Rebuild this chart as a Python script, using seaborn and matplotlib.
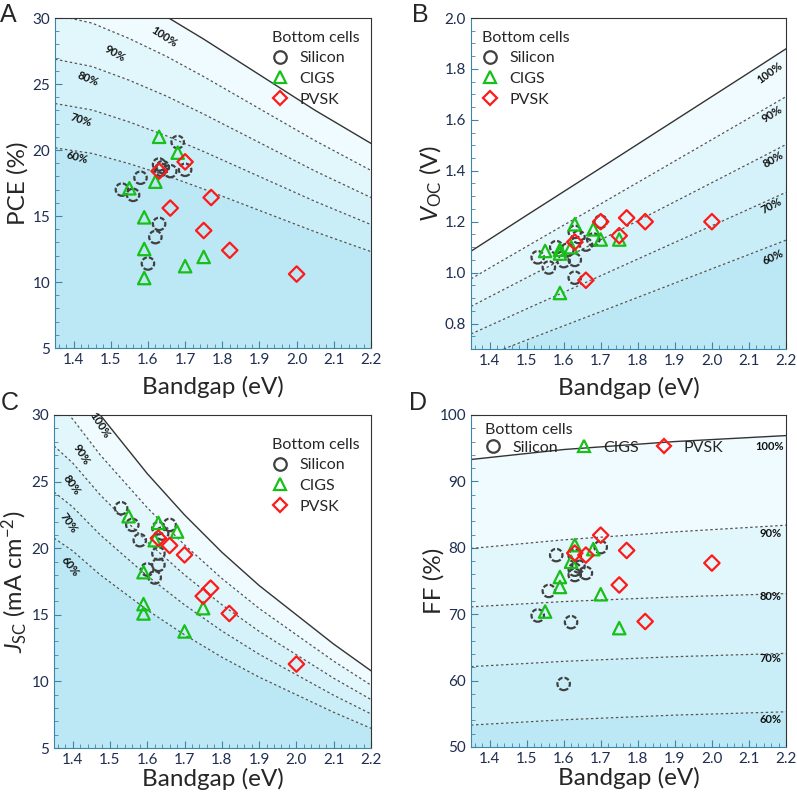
import numpy as np
import pandas as pd
import matplotlib
matplotlib.use("Agg")
import matplotlib.pyplot as plt
import seaborn as sns
from matplotlib.lines import Line2D
from matplotlib.ticker import MultipleLocator

sns.set_style("ticks")
plt.rcParams['font.family'] = ['Lato', 'DejaVu Sans']
plt.rcParams['mathtext.fontset'] = 'custom'
plt.rcParams['mathtext.rm'] = 'Lato'
plt.rcParams['mathtext.it'] = 'Lato:italic'

# ------------------------------------------------------------
# data
# ------------------------------------------------------------
cells = ['Silicon', 'CIGS', 'PVSK']
levels = [1.0, 0.9, 0.8, 0.7, 0.6]
level_labels = ['100%', '90%', '80%', '70%', '60%']

# A - PCE
si_eg_a = [1.53, 1.56, 1.58, 1.60, 1.62, 1.63, 1.63, 1.635, 1.64, 1.66, 1.68, 1.70]
si_pce = [17.0, 16.6, 17.9, 11.4, 13.4, 14.4, 18.9, 18.5, 18.7, 18.4, 20.6, 18.5]
cigs_eg_a = [1.55, 1.59, 1.59, 1.59, 1.62, 1.63, 1.68, 1.70, 1.75]
cigs_pce = [17.1, 14.9, 12.5, 10.3, 17.6, 21.0, 19.8, 11.2, 11.9]
pvsk_eg_a = [1.63, 1.66, 1.70, 1.75, 1.77, 1.82, 2.00]
pvsk_pce = [18.4, 15.6, 19.1, 13.9, 16.4, 12.4, 10.6]
pce_lim_x = [1.35, 1.45, 1.55, 1.65, 1.75, 1.85, 1.95, 2.05, 2.2]
pce_lim = [33.6, 32.9, 31.6, 30.1, 28.4, 26.6, 24.8, 23.0, 20.5]

# B - Voc
si_eg_b = [1.53, 1.56, 1.58, 1.60, 1.61, 1.63, 1.63, 1.63, 1.64, 1.66, 1.68, 1.70]
si_voc = [1.06, 1.02, 1.10, 1.045, 1.09, 1.05, 0.98, 1.16, 1.14, 1.11, 1.13, 1.20]
cigs_eg_b = [1.55, 1.59, 1.59, 1.59, 1.62, 1.63, 1.68, 1.70, 1.75]
cigs_voc = [1.085, 1.09, 1.075, 0.92, 1.10, 1.19, 1.17, 1.13, 1.13]
pvsk_eg_b = [1.63, 1.66, 1.70, 1.75, 1.77, 1.82, 2.00]
pvsk_voc = [1.12, 0.97, 1.20, 1.145, 1.215, 1.20, 1.20]
voc_lim_x = [1.35, 1.5, 1.7, 1.9, 2.1, 2.2]
voc_lim = [1.084, 1.225, 1.411, 1.598, 1.785, 1.879]

# C - Jsc
si_eg_c = [1.53, 1.56, 1.58, 1.60, 1.62, 1.63, 1.63, 1.63, 1.64, 1.66]
si_jsc = [23.0, 21.75, 20.6, 18.4, 17.8, 18.75, 19.6, 21.5, 21.1, 21.75]
cigs_eg_c = [1.55, 1.59, 1.59, 1.59, 1.62, 1.63, 1.68, 1.70, 1.75]
cigs_jsc = [22.4, 18.2, 15.8, 15.1, 20.6, 21.9, 21.25, 13.75, 15.5]
pvsk_eg_c = [1.63, 1.66, 1.70, 1.75, 1.77, 1.82, 2.00]
pvsk_jsc = [20.75, 20.2, 19.5, 16.4, 17.0, 15.1, 11.3]
jsc_lim_x = [1.35, 1.4, 1.474, 1.6, 1.7, 1.8, 1.9, 2.0, 2.1, 2.2]
jsc_lim = [34.6, 33.0, 30.0, 25.6, 22.5, 19.7, 17.2, 15.0, 12.8, 10.8]

# D - FF
si_eg_d = [1.53, 1.56, 1.58, 1.60, 1.62, 1.63, 1.64, 1.63, 1.63, 1.66, 1.70]
si_ff = [69.8, 73.5, 78.9, 59.5, 68.8, 78.8, 77.2, 76.7, 75.9, 76.2, 80.1]
cigs_eg_d = [1.55, 1.59, 1.59, 1.62, 1.63, 1.68, 1.70, 1.75]
cigs_ff = [70.4, 75.6, 74.1, 77.9, 80.4, 79.8, 73.0, 67.9]
pvsk_eg_d = [1.63, 1.66, 1.70, 1.75, 1.77, 1.82, 2.00]
pvsk_ff = [79.2, 78.9, 81.9, 74.4, 79.6, 68.9, 77.7]
ff_x = [1.35, 1.6, 1.9, 2.2]
ff_100 = [93.3, 94.8, 96.0, 96.9]
ff_90 = [79.9, 81.2, 82.4, 83.4]
ff_80 = [71.1, 71.9, 72.6, 73.1]
ff_70 = [62.1, 62.9, 63.6, 64.1]
ff_60 = [53.3, 54.1, 54.8, 55.3]

# ------------------------------------------------------------
# styling
# ------------------------------------------------------------
colors = {'Silicon': '#404040', 'CIGS': '#16c016', 'PVSK': '#ff1a1a'}
markers = {'Silicon': 'o', 'CIGS': '^', 'PVSK': 'D'}
band_colors = ['#effbfe', '#e2f7fc', '#d5f2fa', '#c9eef8', '#bce8f5']
spine_col = '#3d86a8'
text_col = '#1f2d50'


def draw_bands(ax, x, lines, ybottom):
    for i in range(len(lines) - 1):
        ax.fill_between(x, lines[i], lines[i + 1], color=band_colors[i], lw=0, zorder=0)
    ax.fill_between(x, ybottom, lines[-1], color=band_colors[-1], lw=0, zorder=0)
    ax.plot(x, lines[0], color='#333333', lw=1.0, zorder=1)
    for l in lines[1:]:
        ax.plot(x, l, color='#555555', lw=0.9, ls=(0, (2, 2)), zorder=1)


def draw_points(ax, groups):
    for cell, xs, ys in groups:
        df = pd.DataFrame({'eg': xs, 'val': ys})
        sns.scatterplot(data=df, x='eg', y='val', color=colors[cell],
                        marker=markers[cell], s=80 if cell != 'PVSK' else 62,
                        ax=ax, zorder=3)
        pts = ax.collections[-1]
        pts.set_facecolors('none')
        pts.set_edgecolors(colors[cell])
        pts.set_linewidths(1.6)
        if cell == 'Silicon':
            pts.set_linestyle((0, (2.2, 0.9)))


def style_axes(ax, ylim, ymaj, ymin, ylabel, xlab_y, ylab_x=-0.085, ylab_size=17.5):
    ax.set_xlim(1.35, 2.2)
    ax.set_ylim(*ylim)
    ax.xaxis.set_major_locator(MultipleLocator(0.1))
    ax.xaxis.set_minor_locator(MultipleLocator(0.02))
    ax.yaxis.set_major_locator(MultipleLocator(ymaj))
    ax.yaxis.set_minor_locator(MultipleLocator(ymin))
    ax.tick_params(which='both', direction='in', color=spine_col,
                   labelcolor=text_col, labelsize=11)
    ax.tick_params(which='major', length=5)
    ax.tick_params(which='minor', length=3)
    ax.spines['left'].set_color(spine_col)
    ax.spines['bottom'].set_color(spine_col)
    ax.spines['top'].set_color('#333333')
    ax.spines['right'].set_color('#333333')
    ax.set_xlabel('Bandgap (eV)', fontsize=17.5)
    ax.set_ylabel(ylabel, fontsize=ylab_size)
    ax.xaxis.set_label_coords(0.5, xlab_y)
    ax.yaxis.set_label_coords(ylab_x, 0.5)


def add_legend(ax, loc, anchor, ncol=1, spacing=0.4):
    handles = [Line2D([], [], marker=markers[c], ls='', mfc='none', mec=colors[c],
                      mew=1.6, ms=9 if c != 'PVSK' else 7.5) for c in cells]
    leg = ax.legend(handles, cells, title='Bottom cells', loc=loc,
                    bbox_to_anchor=anchor, ncol=ncol, frameon=False,
                    fontsize=11.5, title_fontsize=11.5, alignment='left',
                    handlelength=1.0, handletextpad=0.7, labelspacing=spacing,
                    columnspacing=1.1, borderaxespad=0.3)
    return leg


def add_level_labels(ax, pos, rot):
    for lab, (xv, yv), r in zip(level_labels, pos, rot):
        ax.text(xv, yv, lab, rotation=r, fontsize=8, fontweight='bold',
                ha='center', va='center', color='#111111', zorder=2,
                rotation_mode='anchor')


fig = plt.figure(figsize=(7.97, 7.99), dpi=100)
W, H = 797, 799


def add_ax(l, t, r, b):
    return fig.add_axes([l / W, 1 - b / H, (r - l) / W, (b - t) / H])


axA = add_ax(55, 18, 371, 348)
axB = add_ax(471, 18, 786, 349)
axC = add_ax(54, 415, 371, 748)
axD = add_ax(471, 415, 786, 747)

# A
lines_a = [[v * f for v in pce_lim] for f in levels]
draw_bands(axA, pce_lim_x, lines_a, 5)
draw_points(axA, [('Silicon', si_eg_a, si_pce), ('CIGS', cigs_eg_a, cigs_pce),
                  ('PVSK', pvsk_eg_a, pvsk_pce)])
style_axes(axA, (5, 30), 5, 1, 'PCE (%)', -0.085)
add_legend(axA, 'upper right', (1.0, 0.995))
add_level_labels(axA, [(1.645, 28.6), (1.51, 27.3), (1.44, 25.4), (1.42, 22.3), (1.41, 19.4)],
                 [-33, -30, -22, -18, -15])

# B
lines_b = [[v * f for v in voc_lim] for f in levels]
draw_bands(axB, voc_lim_x, lines_b, 0.7)
draw_points(axB, [('Silicon', si_eg_b, si_voc), ('CIGS', cigs_eg_b, cigs_voc),
                  ('PVSK', pvsk_eg_b, pvsk_voc)])
style_axes(axB, (0.7, 2.0), 0.2, 0.05, r'$V_{\rm OC}$ (V)', -0.085)
add_legend(axB, 'upper left', (0.0, 0.995))
add_level_labels(axB, [(2.155, 1.785), (2.161, 1.621), (2.166, 1.444), (2.161, 1.261), (2.166, 1.059)],
                 [36, 32, 30, 28, 25])

# C
lines_c = [[v * f for v in jsc_lim] for f in levels]
draw_bands(axC, jsc_lim_x, lines_c, 5)
draw_points(axC, [('Silicon', si_eg_c, si_jsc), ('CIGS', cigs_eg_c, cigs_jsc),
                  ('PVSK', pvsk_eg_c, pvsk_jsc)])
style_axes(axC, (5, 30), 5, 1, r'$J_{\rm SC}$ (mA cm$^{-2}$)', -0.06,
           ylab_x=-0.078, ylab_size=17)
add_legend(axC, 'upper right', (1.0, 0.965))
add_level_labels(axC, [(1.474, 29.2), (1.424, 27.0), (1.398, 24.75), (1.39, 21.9), (1.393, 18.6)],
                 [-58, -58, -55, -55, -52])

# D
lines_d = [ff_100, ff_90, ff_80, ff_70, ff_60]
draw_bands(axD, ff_x, lines_d, 50)
draw_points(axD, [('Silicon', si_eg_d, si_ff), ('CIGS', cigs_eg_d, cigs_ff),
                  ('PVSK', pvsk_eg_d, pvsk_ff)])
style_axes(axD, (50, 100), 10, 2, 'FF (%)', -0.06)
add_legend(axD, 'upper left', (0.01, 1.01), ncol=3, spacing=0.25)
add_level_labels(axD, [(2.157, 95.3), (2.157, 82.1), (2.157, 72.6), (2.157, 63.3), (2.157, 54.2)],
                 [0, 0, 0, 0, 0])

for lab, (px, py) in zip('ABCD', [(8, 15), (420, 15), (10, 403), (418, 403)]):
    fig.text(px / W, 1 - py / H, lab, fontsize=18, ha='center', va='center',
             family=['Liberation Sans', 'DejaVu Sans'])

fig.savefig('out.png', dpi=100)
